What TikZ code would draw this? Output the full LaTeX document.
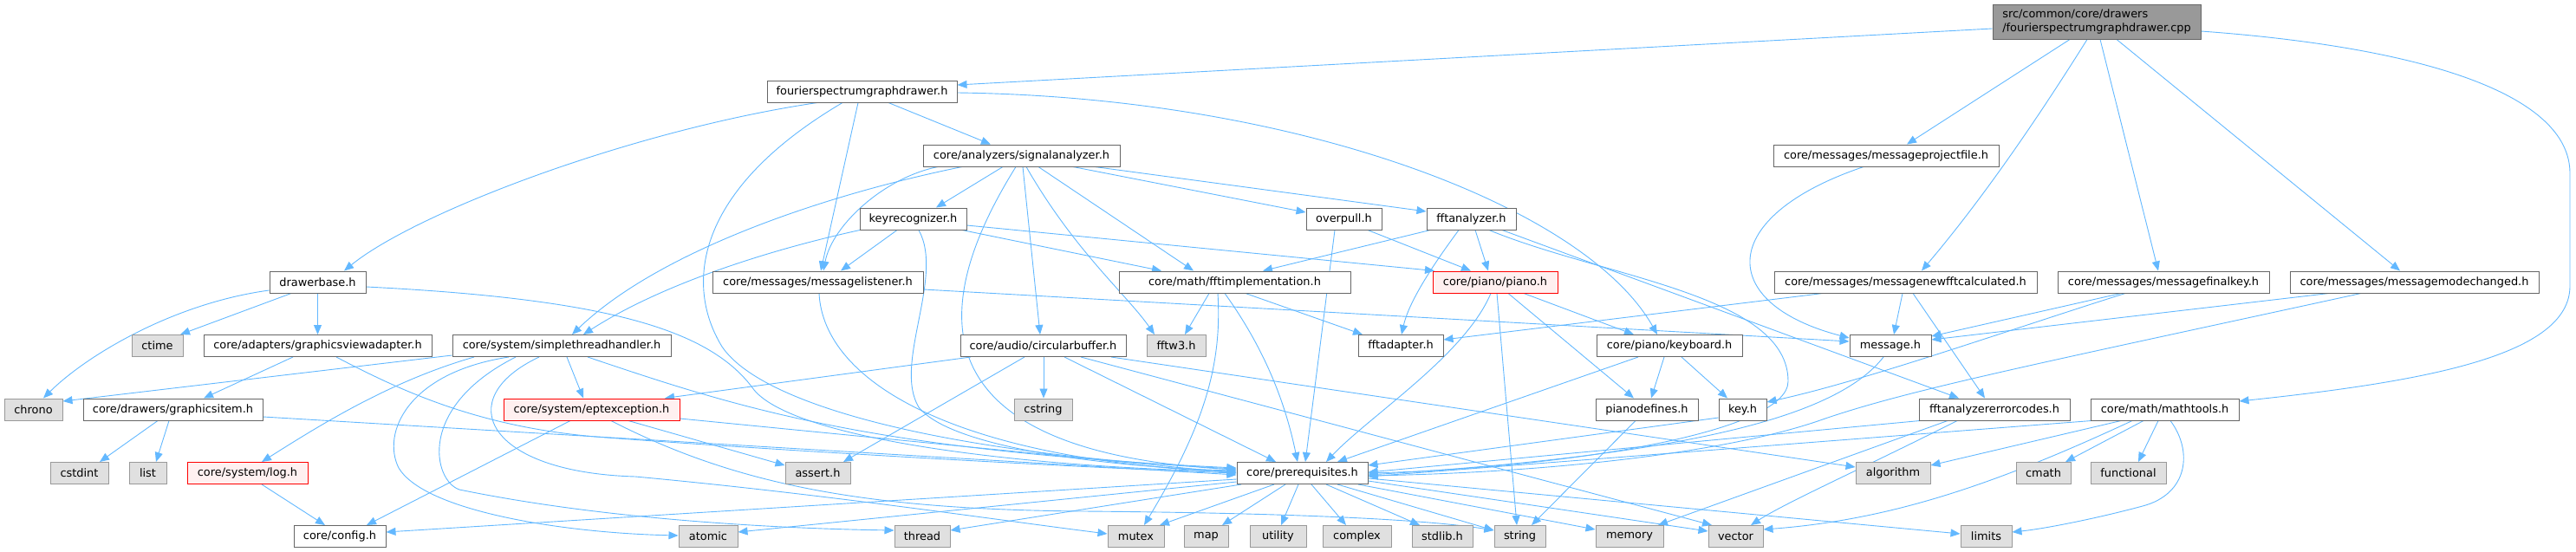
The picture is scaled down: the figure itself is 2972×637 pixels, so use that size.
\documentclass[tikz,border=0pt]{standalone}
\usepackage{fontspec}
\setmainfont{DejaVu Sans}
\usetikzlibrary{arrows.meta}
\definecolor{eb}{HTML}{63B8FF}
\definecolor{bd}{HTML}{666666}
\definecolor{sysbd}{HTML}{999999}
\definecolor{sysfill}{HTML}{E0E0E0}
\definecolor{redfill}{HTML}{FFF0F0}
\definecolor{rootfill}{HTML}{999999}
\pgfdeclarelayer{bg}
\pgfsetlayers{bg,main}
\begin{document}
\begin{tikzpicture}[x=1pt,y=-1pt,
  box/.style={draw=bd, fill=white, line width=1pt, inner sep=0pt, minimum height=25pt, font=\fontsize{12.9}{15}\selectfont},
  sysbox/.style={box, draw=sysbd, fill=sysfill},
  redbox/.style={box, draw=red, fill=redfill},
  rootbox/.style={box, fill=rootfill, minimum height=40pt, align=left, font=\fontsize{12.9}{15.5}\selectfont},
  e/.style={draw=eb, line width=0.9pt, -{Triangle[length=11pt,width=9pt]}}]
\useasboundingbox (0,0) rectangle (2972,637);

% nodes
\node[rootbox, minimum width=240pt] (root) at (2419,25) {src/common/core/drawers\\/fourierspectrumgraphdrawer.cpp};
\node[box, minimum width=219pt] (fsgd) at (994.5,105.5) {fourierspectrumgraphdrawer.h};
\node[box, minimum width=227pt] (sa) at (1178.5,179.5) {core/analyzers/signalanalyzer.h};
\node[box, minimum width=260pt] (mpf) at (2176,179.5) {core/messages/messageprojectfile.h};
\node[box, minimum width=123pt] (kr) at (1053.5,252.5) {keyrecognizer.h};
\node[box, minimum width=87pt] (op) at (1550.5,252.5) {overpull.h};
\node[box, minimum width=103pt] (fa) at (1697.5,252.5) {fftanalyzer.h};
\node[box, minimum width=111pt] (db) at (366.5,325.5) {drawerbase.h};
\node[box, minimum width=243pt] (ml) at (943.5,325.5) {core/messages/messagelistener.h};
\node[box, minimum width=267pt] (fi) at (1424.5,325.5) {core/math/fftimplementation.h};
\node[redbox, minimum width=144pt] (piano) at (1725,325.5) {core/piano/piano.h};
\node[box, minimum width=303pt] (mnf) at (2198.5,325.5) {core/messages/messagenewfftcalculated.h};
\node[box, minimum width=244pt] (mfk) at (2496,325.5) {core/messages/messagefinalkey.h};
\node[box, minimum width=287pt] (mmc) at (2785.5,325.5) {core/messages/messagemodechanged.h};
\node[box, minimum width=263pt] (gva) at (366.5,399) {core/adapters/graphicsviewadapter.h};
\node[sysbox, minimum width=59pt] (ctime) at (181.5,399) {ctime};
\node[box, minimum width=252pt] (sth) at (648,399) {core/system/simplethreadhandler.h};
\node[box, minimum width=191pt] (cb) at (1203.5,399) {core/audio/circularbuffer.h};
\node[sysbox, minimum width=68pt] (fftw) at (1357,399) {fftw3.h};
\node[box, minimum width=98pt] (fad) at (1616,399) {fftadapter.h};
\node[box, minimum width=168pt] (kb) at (1926,399) {core/piano/keyboard.h};
\node[box, minimum width=94pt] (msg) at (2181,399) {message.h};
\node[sysbox, minimum width=67pt] (chrono) at (38.5,472.5) {chrono};
\node[box, minimum width=207pt] (gi) at (199.5,472.5) {core/drawers/graphicsitem.h};
\node[redbox, minimum width=203pt] (ept) at (682.5,472.5) {core/system/eptexception.h};
\node[sysbox, minimum width=67pt] (cstring) at (1203.5,472.5) {cstring};
\node[box, minimum width=118pt] (pd) at (1900,472.5) {pianodefines.h};
\node[box, minimum width=55pt] (key) at (2010.5,472.5) {key.h};
\node[box, minimum width=174pt] (fec) at (2301,472.5) {fftanalyzererrorcodes.h};
\node[box, minimum width=171pt] (mt) at (2497.5,472.5) {core/math/mathtools.h};
\node[sysbox, minimum width=67pt] (cstdint) at (91.5,546) {cstdint};
\node[sysbox, minimum width=43pt] (list) at (170.5,546) {list};
\node[redbox, minimum width=139pt] (log) at (285.5,546) {core/system/log.h};
\node[sysbox, minimum width=75pt] (assert) at (943.5,546) {assert.h};
\node[box, minimum width=151pt] (pre) at (1502.5,546) {core/prerequisites.h};
\node[sysbox, minimum width=86pt] (algo) at (2184,546) {algorithm};
\node[sysbox, minimum width=63pt] (cmath) at (2357.5,546) {cmath};
\node[sysbox, minimum width=87pt] (func) at (2455.5,546) {functional};
\node[box, minimum width=106pt] (config) at (392,619) {core/config.h};
\node[sysbox, minimum width=68pt] (atomic) at (817,619) {atomic};
\node[sysbox, minimum width=64pt] (thread) at (1064,619) {thread};
\node[sysbox, minimum width=65pt] (mutex) at (1310.5,619) {mutex};
\node[sysbox, minimum width=51pt] (map) at (1391.5,619) {map};
\node[sysbox, minimum width=65pt] (utility) at (1474.5,619) {utility};
\node[sysbox, minimum width=79pt] (complex) at (1565.5,619) {complex};
\node[sysbox, minimum width=70pt] (stdlib) at (1664,619) {stdlib.h};
\node[sysbox, minimum width=59pt] (string) at (1753.5,619) {string};
\node[sysbox, minimum width=78pt] (memory) at (1880,619) {memory};
\node[sysbox, minimum width=63pt] (vector) at (2002.5,619) {vector};
\node[sysbox, minimum width=59pt] (limits) at (2291.5,619) {limits};

\begin{pgfonlayer}{bg}
% root
\draw[e] ([shift={(0,33-25)}]root.west) -- ([shift={(0,98-105.5)}]fsgd.east);
\draw[e] ([shift={(2388-2419,0)}]root.south) -- ([shift={(2200-2176,0)}]mpf.north);
\draw[e] ([shift={(2408-2419,0)}]root.south) .. controls (2330,170) and (2270,250) .. ([shift={(2217-2198.5,0)}]mnf.north);
\draw[e] ([shift={(2423-2419,0)}]root.south) -- ([shift={(2490-2496,0)}]mfk.north);
\draw[e] ([shift={(2442-2419,0)}]root.south) -- ([shift={(2769-2785.5,0)}]mmc.north);
\draw[e] ([shift={(0,36-25)}]root.east) .. controls (2800,55) and (2965,110) .. (2965,200) -- (2965,330) .. controls (2965,410) and (2800,440) .. ([shift={(0,463-472.5)}]mt.east);
% fsgd
\draw[e] ([shift={(943-994.5,0)}]fsgd.south) .. controls (730,150) and (480,245) .. ([shift={(397-366.5,0)}]db.north);
\draw[e] ([shift={(1025-994.5,0)}]fsgd.south) -- ([shift={(1143-1178.5,0)}]sa.north);
\draw[e] ([shift={(990-994.5,0)}]fsgd.south) -- ([shift={(947-943.5,0)}]ml.north);
\draw[e] ([shift={(972-994.5,0)}]fsgd.south) .. controls (800,220) and (790,330) .. (833,400) .. controls (880,470) and (1100,525) .. ([shift={(0,541-546)}]pre.west);
\draw[e] ([shift={(0,107-105.5)}]fsgd.east) .. controls (1500,112) and (1830,240) .. ([shift={(1912-1926,0)}]kb.north);
% sa
\draw[e] ([shift={(1157-1178.5,0)}]sa.south) -- ([shift={(1080-1053.5,0)}]kr.north);
\draw[e] ([shift={(1082-1178.5,0)}]sa.south) .. controls (1020,205) and (960,260) .. ([shift={(950-943.5,0)}]ml.north);
\draw[e] ([shift={(1110-1178.5,0)}]sa.south) .. controls (950,225) and (760,290) .. ([shift={(660-648,0)}]sth.north);
\draw[e] ([shift={(1172-1178.5,0)}]sa.south) .. controls (1080,340) and (1040,520) .. ([shift={(0,542-546)}]pre.west);
\draw[e] ([shift={(1180-1178.5,0)}]sa.south) -- ([shift={(1200-1203.5,0)}]cb.north);
\draw[e] ([shift={(1184-1178.5,0)}]sa.south) .. controls (1240,290) and (1300,340) .. ([shift={(1332-1357,0)}]fftw.north);
\draw[e] ([shift={(1198-1178.5,0)}]sa.south) -- ([shift={(1377-1424.5,0)}]fi.north);
\draw[e] ([shift={(1238-1178.5,0)}]sa.south) -- ([shift={(0,245-252.5)}]op.west);
\draw[e] ([shift={(1263-1178.5,0)}]sa.south) -- ([shift={(0,244-252.5)}]fa.west);
% kr
\draw[e] ([shift={(1035-1053.5,0)}]kr.south) -- ([shift={(970-943.5,0)}]ml.north);
\draw[e] ([shift={(992-1053.5,0)}]kr.south) .. controls (880,290) and (760,330) .. ([shift={(673-648,0)}]sth.north);
\draw[e] ([shift={(1060-1053.5,0)}]kr.south) .. controls (1090,320) and (1030,420) .. (1060,470) .. controls (1100,520) and (1300,540) .. ([shift={(0,543-546)}]pre.west);
\draw[e] ([shift={(1110-1053.5,0)}]kr.south) -- ([shift={(1340-1424.5,0)}]fi.north);
\draw[e] ([shift={(0,260-252.5)}]kr.east) -- ([shift={(1655-1725,0)}]piano.north);
% op
\draw[e] ([shift={(1540-1550.5,0)}]op.south) -- ([shift={(1506-1502.5,0)}]pre.north);
\draw[e] ([shift={(1578-1550.5,0)}]op.south) -- ([shift={(1697-1725,0)}]piano.north);
% fa
\draw[e] ([shift={(1650-1697.5,0)}]fa.south) -- ([shift={(1457-1424.5,0)}]fi.north);
\draw[e] ([shift={(1683-1697.5,0)}]fa.south) .. controls (1650,310) and (1625,350) .. ([shift={(1617-1616,0)}]fad.north);
\draw[e] ([shift={(1702-1697.5,0)}]fa.south) -- ([shift={(1717-1725,0)}]piano.north);
\draw[e] ([shift={(1718-1697.5,0)}]fa.south) .. controls (1850,320) and (2063,340) .. (2063,440) .. controls (2063,500) and (1800,540) .. (pre.east);
\draw[e] ([shift={(1733-1697.5,0)}]fa.south) -- ([shift={(2260-2301,0)}]fec.north);
% ml
\draw[e] ([shift={(0,334-325.5)}]ml.east) -- ([shift={(0,394-399)}]msg.west);
\draw[e] ([shift={(945-943.5,0)}]ml.south) .. controls (950,440) and (1100,530) .. ([shift={(0,545-546)}]pre.west);
% fi
\draw[e] ([shift={(1395-1424.5,0)}]fi.south) -- ([shift={(1367-1357,0)}]fftw.north);
\draw[e] ([shift={(1405-1424.5,0)}]fi.south) .. controls (1410,420) and (1390,490) .. ([shift={(1320-1310.5,0)}]mutex.north);
\draw[e] ([shift={(1413-1424.5,0)}]fi.south) .. controls (1450,390) and (1480,450) .. ([shift={(1497-1502.5,0)}]pre.north);
\draw[e] ([shift={(1437-1424.5,0)}]fi.south) -- ([shift={(1572-1616,0)}]fad.north);
% piano
\draw[e] ([shift={(1720-1725,0)}]piano.south) .. controls (1690,410) and (1580,480) .. ([shift={(1530-1502.5,0)}]pre.north);
\draw[e] ([shift={(1727-1725,0)}]piano.south) -- ([shift={(1750-1753.5,0)}]string.north);
\draw[e] ([shift={(1740-1725,0)}]piano.south) -- ([shift={(1885-1900,0)}]pd.north);
\draw[e] ([shift={(1758-1725,0)}]piano.south) -- ([shift={(1885-1926,0)}]kb.north);
% kb
\draw[e] ([shift={(1890-1926,0)}]kb.south) -- ([shift={(1543-1502.5,0)}]pre.north);
\draw[e] ([shift={(1920-1926,0)}]kb.south) -- ([shift={(1905-1900,0)}]pd.north);
\draw[e] ([shift={(1940-1926,0)}]kb.south) -- ([shift={(1993-2010.5,0)}]key.north);
% pd, key
\draw[e] ([shift={(1887-1900,0)}]pd.south) -- ([shift={(1767-1753.5,0)}]string.north);
\draw[e] ([shift={(0,482-472.5)}]key.west) -- ([shift={(0,537-546)}]pre.east);
% msg
\draw[e] ([shift={(2173-2181,0)}]msg.south) .. controls (2120,480) and (1950,525) .. ([shift={(0,548-546)}]pre.east);
% mpf
\draw[e] ([shift={(2150-2176,0)}]mpf.south) .. controls (1980,250) and (1980,350) .. ([shift={(0,390-399)}]msg.west);
% mnf
\draw[e] ([shift={(2103-2198.5,0)}]mnf.south) -- ([shift={(0,392-399)}]fad.east);
\draw[e] ([shift={(2195-2198.5,0)}]mnf.south) -- ([shift={(2185-2181,0)}]msg.north);
\draw[e] ([shift={(2207-2198.5,0)}]mnf.south) -- ([shift={(2290-2301,0)}]fec.north);
% mfk
\draw[e] ([shift={(2447-2496,0)}]mfk.south) -- ([shift={(0,388-399)}]msg.east);
\draw[e] ([shift={(2452-2496,0)}]mfk.south) .. controls (2320,380) and (2150,440) .. ([shift={(0,464-472.5)}]key.east);
% mmc
\draw[e] ([shift={(2687-2785.5,0)}]mmc.south) -- ([shift={(0,392-399)}]msg.east);
\draw[e] ([shift={(2724-2785.5,0)}]mmc.south) .. controls (2350,420) and (2200,450) .. (2100,485) .. controls (2000,520) and (1800,545) .. ([shift={(0,549-546)}]pre.east);
% fec
\draw[e] ([shift={(2215-2301,0)}]fec.south) -- ([shift={(0,545-546)}]pre.east);
\draw[e] ([shift={(2247-2301,0)}]fec.south) -- ([shift={(1913-1880,0)}]memory.north);
\draw[e] ([shift={(2258-2301,0)}]fec.south) .. controls (2150,540) and (2060,580) .. ([shift={(2020-2002.5,0)}]vector.north);
% mt
\draw[e] ([shift={(2413-2497.5,0)}]mt.south) -- ([shift={(0,550-546)}]pre.east);
\draw[e] ([shift={(2447-2497.5,0)}]mt.south) -- ([shift={(0,537-546)}]algo.east);
\draw[e] ([shift={(2460-2497.5,0)}]mt.south) .. controls (2300,560) and (2180,600) .. ([shift={(0,611-619)}]vector.east);
\draw[e] ([shift={(2473-2497.5,0)}]mt.south) -- ([shift={(2383-2357.5,0)}]cmath.north);
\draw[e] ([shift={(2490-2497.5,0)}]mt.south) -- ([shift={(2467-2455.5,0)}]func.north);
\draw[e] ([shift={(2504-2497.5,0)}]mt.south) .. controls (2530,520) and (2525,570) .. (2472,584) .. controls (2420,598) and (2360,610) .. ([shift={(0,614-619)}]limits.east);
% db
\draw[e] ([shift={(0,335-325.5)}]db.west) .. controls (200,350) and (100,410) .. ([shift={(50-38.5,0)}]chrono.north);
\draw[e] ([shift={(336-366.5,0)}]db.south) -- ([shift={(208-181.5,0)}]ctime.north);
\draw[e] (db.south) -- (gva.north);
\draw[e] ([shift={(0,331-325.5)}]db.east) .. controls (700,345) and (820,380) .. (870,450) .. controls (920,510) and (1200,540) .. ([shift={(0,544-546)}]pre.west);
% gva
\draw[e] ([shift={(338-366.5,0)}]gva.south) -- ([shift={(235-199.5,0)}]gi.north);
\draw[e] ([shift={(388-366.5,0)}]gva.south) .. controls (470,455) and (560,495) .. (700,505) .. controls (900,520) and (1250,540) .. (pre.west);
% sth
\draw[e] ([shift={(0,410-399)}]sth.west) -- ([shift={(0,463-472.5)}]chrono.east);
\draw[e] ([shift={(547-648,0)}]sth.south) .. controls (450,440) and (370,490) .. ([shift={(302-285.5,0)}]log.north);
\draw[e] ([shift={(587-648,0)}]sth.south) .. controls (470,430) and (440,500) .. (460,540) .. controls (490,590) and (650,615) .. ([shift={(0,618-619)}]atomic.west);
\draw[e] ([shift={(595-648,0)}]sth.south) .. controls (480,470) and (500,555) .. (530,565) .. controls (700,600) and (900,610) .. ([shift={(0,612-619)}]thread.west);
\draw[e] ([shift={(622-648,0)}]sth.south) .. controls (520,460) and (560,545) .. (733,550) .. controls (950,570) and (1150,600) .. ([shift={(0,616-619)}]mutex.west);
\draw[e] ([shift={(654-648,0)}]sth.south) -- ([shift={(673-682.5,0)}]ept.north);
\draw[e] ([shift={(678-648,0)}]sth.south) .. controls (850,470) and (1000,520) .. ([shift={(0,540-546)}]pre.west);
% ept
\draw[e] ([shift={(658-682.5,0)}]ept.south) -- ([shift={(423-392,0)}]config.north);
\draw[e] ([shift={(725-682.5,0)}]ept.south) -- ([shift={(0,537-546)}]assert.west);
\draw[e] ([shift={(705-682.5,0)}]ept.south) .. controls (850,560) and (1000,588) .. (1250,590) .. controls (1500,592) and (1650,600) .. ([shift={(0,612-619)}]string.west);
\draw[e] ([shift={(0,483-472.5)}]ept.east) -- (pre.west);
% gi
\draw[e] ([shift={(182-199.5,0)}]gi.south) -- ([shift={(115-91.5,0)}]cstdint.north);
\draw[e] ([shift={(195-199.5,0)}]gi.south) -- ([shift={(180-170.5,0)}]list.north);
\draw[e] ([shift={(0,481-472.5)}]gi.east) -- ([shift={(0,548-546)}]pre.west);
% log
\draw[e] ([shift={(302-285.5,0)}]log.south) -- ([shift={(375-392,0)}]config.north);
% cb
\draw[e] ([shift={(1120-1203.5,0)}]cb.south) -- ([shift={(767-682.5,0)}]ept.north);
\draw[e] ([shift={(1182-1203.5,0)}]cb.south) -- ([shift={(973-943.5,0)}]assert.north);
\draw[e] ([shift={(1204-1203.5,0)}]cb.south) -- ([shift={(1204-1203.5,0)}]cstring.north);
\draw[e] ([shift={(1228-1203.5,0)}]cb.south) -- ([shift={(1472-1502.5,0)}]pre.north);
\draw[e] ([shift={(1247-1203.5,0)}]cb.south) -- ([shift={(1975-2002.5,0)}]vector.north);
\draw[e] ([shift={(1282-1203.5,0)}]cb.south) -- ([shift={(0,539-546)}]algo.west);
% pre
\draw[e] ([shift={(0,553-546)}]pre.west) -- ([shift={(0,614-619)}]config.east);
\draw[e] ([shift={(0,556-546)}]pre.west) -- ([shift={(0,614-619)}]atomic.east);
\draw[e] ([shift={(1432-1502.5,0)}]pre.south) -- ([shift={(0,612-619)}]thread.east);
\draw[e] ([shift={(1470-1502.5,0)}]pre.south) -- ([shift={(1338-1310.5,0)}]mutex.north);
\draw[e] ([shift={(1483-1502.5,0)}]pre.south) -- ([shift={(1410-1391.5,0)}]map.north);
\draw[e] ([shift={(1498-1502.5,0)}]pre.south) -- ([shift={(1478-1474.5,0)}]utility.north);
\draw[e] ([shift={(1513-1502.5,0)}]pre.south) -- ([shift={(1553-1565.5,0)}]complex.north);
\draw[e] ([shift={(1530-1502.5,0)}]pre.south) -- ([shift={(1638-1664,0)}]stdlib.north);
\draw[e] ([shift={(1543-1502.5,0)}]pre.south) -- ([shift={(0,612-619)}]string.west);
\draw[e] ([shift={(1567-1502.5,0)}]pre.south) -- ([shift={(0,611-619)}]memory.west);
\draw[e] ([shift={(0,555-546)}]pre.east) -- ([shift={(0,613-619)}]vector.west);
\draw[e] ([shift={(0,552-546)}]pre.east) -- ([shift={(0,616-619)}]limits.west);
\end{pgfonlayer}
\end{tikzpicture}
\end{document}
